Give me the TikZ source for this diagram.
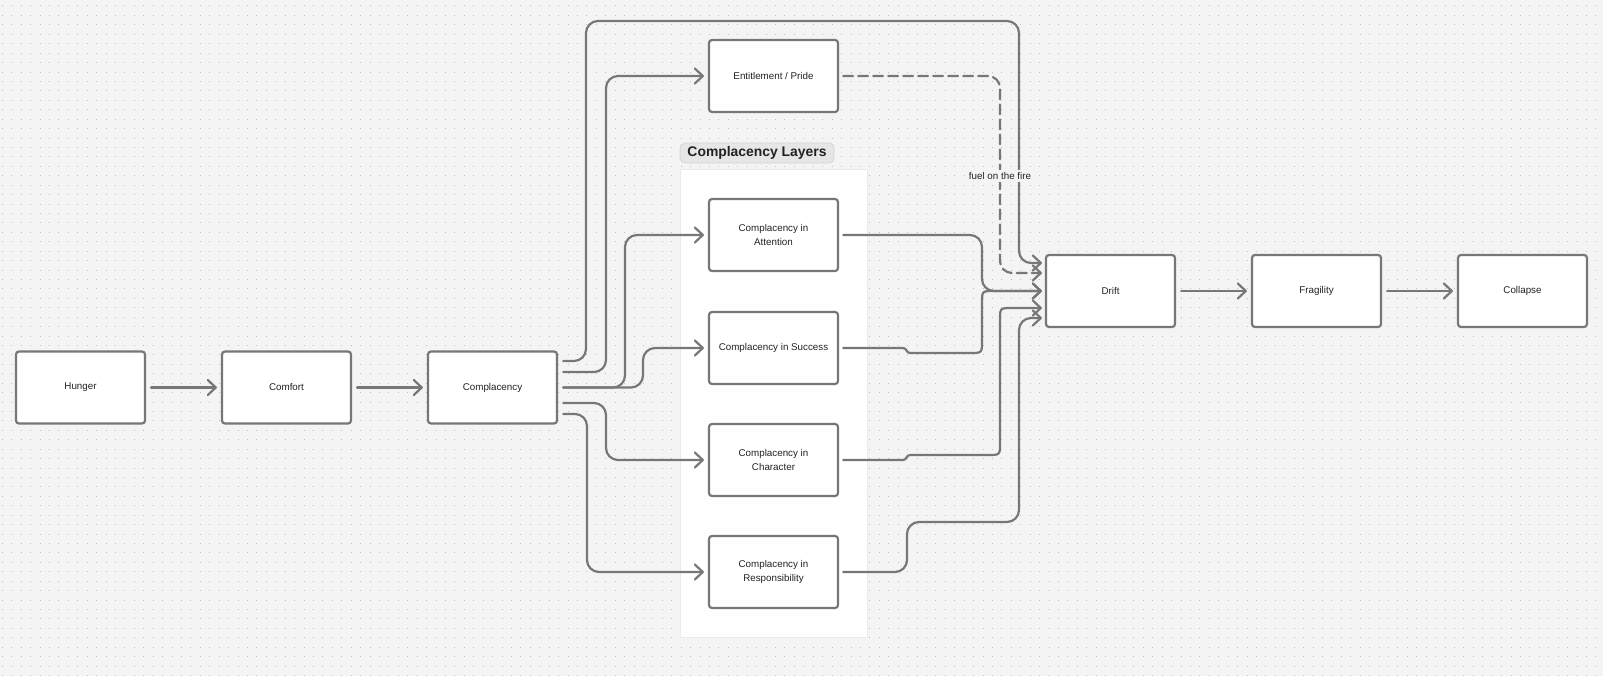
\documentclass[tikz,border=0pt]{standalone}
\usepackage{fontspec}
\setmainfont{Liberation Sans}
\usetikzlibrary{arrows.meta,calc}
\definecolor{bg}{HTML}{F4F4F4}
\definecolor{ln}{HTML}{777777}
\definecolor{dotc}{HTML}{BDBDBD}
\definecolor{txt}{HTML}{222222}
\definecolor{panelb}{HTML}{EBEBEB}
\definecolor{tagf}{HTML}{E6E6E6}
\definecolor{tagb}{HTML}{D4D4D4}
\begin{document}
\begin{tikzpicture}[x=1pt,y=-1pt,
  box/.style={draw=ln, line width=2.2pt, fill=white, rounded corners=3pt,
    minimum width=129pt, minimum height=72pt, inner sep=0pt, align=center,
    font=\fontsize{9.8}{14}\selectfont, text=txt},
  conn/.style={draw=ln, line width=2.2pt, rounded corners=12pt, line cap=round, line join=round,
    -{Straight Barb[length=8pt,width=15pt,line cap=round,line join=round]}},
  sconn/.style={conn, sharp corners},
  dashconn/.style={conn, dash pattern=on 10pt off 5pt},
  lbl/.style={fill=bg, inner sep=2pt, font=\fontsize{9.8}{12}\selectfont, text=txt},
  tag/.style={fill=tagf, draw=tagb, line width=0.8pt, rounded corners=5pt,
    minimum width=154pt, minimum height=20pt, inner sep=0pt,
    font=\bfseries\fontsize{13.9}{16}\selectfont, text=txt},
  panel/.style={fill=white, draw=panelb, line width=0.8pt,
    minimum width=187pt, minimum height=468pt, inner sep=0pt},
  gridrow/.style={draw=dotc, line width=1pt, dash pattern=on 1pt off 8.43pt}
]
\useasboundingbox (0,0) rectangle (1603,676);
\fill[bg] (0,0) rectangle (1603,676);
\foreach \i in {0,...,71}
  \draw[gridrow] (1.8,{6+\i*9.43}) -- (1603,{6+\i*9.43});

% panel and title
\node[panel] (panel) at (773.5,403) {};
\node[tag] (layers) at (757,153) {Complacency Layers};

% boxes
\node[box] (hunger) at (80.5,387.5) {Hunger};
\node[box] (comfort) at (286.5,387.5) {Comfort};
\node[box] (compl) at (492.5,387.5) {Complacency};
\node[box] (entitle) at (773.5,76) {Entitlement / Pride};
\node[box] (att) at (773.5,235) {Complacency in\\Attention};
\node[box] (succ) at (773.5,348) {Complacency in Success};
\node[box] (char) at (773.5,460) {Complacency in\\Character};
\node[box] (resp) at (773.5,572) {Complacency in\\Responsibility};
\node[box] (drift) at (1110.5,291) {Drift};
\node[box] (frag) at (1316.5,291) {Fragility};
\node[box] (coll) at (1522.5,291) {Collapse};

% main chain
\draw[conn] ($(hunger.east)+(5,0)$) -- ($(comfort.west)+(-4,0)$);
\draw[conn] ($(comfort.east)+(5,0)$) -- ($(compl.west)+(-4,0)$);
\draw[conn] ($(drift.east)+(5,0)$) -- ($(frag.west)+(-4,0)$);
\draw[conn] ($(frag.east)+(5,0)$) -- ($(coll.west)+(-4,0)$);

% from complacency
\draw[conn] ($(compl.east)+(5,-26.5)$) -| (586,21) -- (1019,21) |- ($(drift.west)+(-3,-28)$);
\draw[conn] ($(compl.east)+(5,-15.5)$) -| (606,76) -- ($(entitle.west)+(-4,0)$);
\draw[conn] ($(compl.east)+(5,0)$) -| (625,235) -- ($(att.west)+(-4,0)$);
\draw[conn] ($(compl.east)+(5,0)$) -| (643,348) -- ($(succ.west)+(-4,0)$);
\draw[conn] ($(compl.east)+(5,15.5)$) -| (606,460) -- ($(char.west)+(-4,0)$);
\draw[conn] ($(compl.east)+(5,26.5)$) -| (587,572) -- ($(resp.west)+(-4,0)$);

% into drift
\draw[conn] ($(att.east)+(4,0)$) -| (982,291) -- ($(drift.west)+(-3,0)$);
\draw[sconn] ($(succ.east)+(4,0)$) -- (903,348) .. controls (907,348) and (906,353) .. (910,353)
  -- (970,353) .. controls (982,353) .. (982,341) -- (982,303)
  .. controls (982,291) .. (994,291) -- ($(drift.west)+(-3,0)$);
\draw[sconn] ($(char.east)+(4,0)$) -- (903,460) .. controls (907,460) and (906,455) .. (910,455)
  -- (988,455) .. controls (1000,455) .. (1000,443) -- (1000,320)
  .. controls (1000,308) .. (1012,308) -- ($(drift.west)+(-3,17)$);
\draw[conn] ($(resp.east)+(4,0)$) -| (907,522) -| (1019,318) -- ($(drift.west)+(-3,27)$);
\draw[dashconn] ($(entitle.east)+(4,0)$) -| (1000,273) -- ($(drift.west)+(-3,-18)$);
\node[lbl] (fuel) at (1000,176) {fuel on the fire};
\end{tikzpicture}
\end{document}
